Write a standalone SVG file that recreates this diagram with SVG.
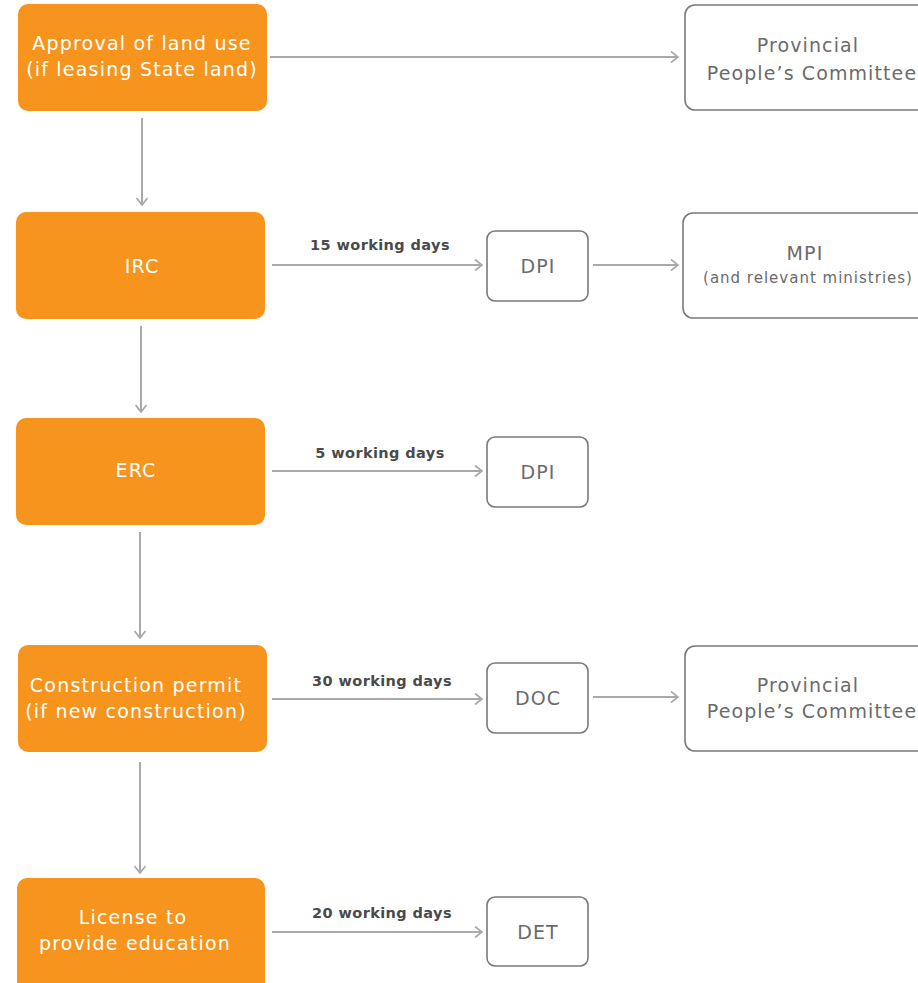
<svg xmlns="http://www.w3.org/2000/svg" width="918" height="983" viewBox="0 0 918 983">
<style>
.o{fill:#F7941D}
.w{fill:#fff;stroke:#7a7a7a;stroke-width:1.6}
.ot{fill:#fff;font-family:"DejaVu Sans","Liberation Sans",sans-serif;font-size:19px;letter-spacing:1.2px;text-anchor:middle}
.gt{fill:#6b6b6b;font-family:"DejaVu Sans","Liberation Sans",sans-serif;font-size:19px;letter-spacing:1.1px;text-anchor:middle}
.st{fill:#6b6b6b;font-family:"DejaVu Sans","Liberation Sans",sans-serif;font-size:15px;letter-spacing:1px;text-anchor:middle}
.lb{fill:#4a4a4a;font-family:"DejaVu Sans","Liberation Sans",sans-serif;font-size:14.5px;letter-spacing:0.4px;font-weight:bold;text-anchor:middle}
.c{stroke:#a9a9a9;stroke-width:2;fill:none;marker-end:url(#a)}
</style>
<defs>
<marker id="a" viewBox="0 0 12 12" refX="11" refY="6" markerWidth="12" markerHeight="12" markerUnits="userSpaceOnUse" orient="auto">
<polyline points="4,0.5 11,6 4,11.5" fill="none" stroke="#a9a9a9" stroke-width="1.8"/>
</marker>
</defs>
<g id="connectors">
<line class="c" x1="142" y1="118" x2="142" y2="205"/>
<line class="c" x1="141" y1="326" x2="141" y2="412"/>
<line class="c" x1="140" y1="532" x2="140" y2="638"/>
<line class="c" x1="140" y1="762" x2="140" y2="873"/>
<line class="c" x1="270" y1="57" x2="678" y2="57"/>
<line class="c" x1="272" y1="265" x2="482" y2="265"/>
<line class="c" x1="593" y1="265" x2="678" y2="265"/>
<line class="c" x1="272" y1="471" x2="482" y2="471"/>
<line class="c" x1="272" y1="699" x2="482" y2="699"/>
<line class="c" x1="593" y1="697" x2="678" y2="697"/>
<line class="c" x1="272" y1="932" x2="482" y2="932"/>
<text class="lb" x="380" y="250">15 working days</text>
<text class="lb" x="380" y="458">5 working days</text>
<text class="lb" x="382" y="686">30 working days</text>
<text class="lb" x="382" y="918">20 working days</text>
</g>
<g id="approval"><rect class="o" x="18" y="4" width="249" height="107" rx="10"/>
<text class="ot" x="142" y="50">Approval of land use</text><text class="ot" x="142" y="76">(if leasing State land)</text></g>
<g id="irc"><rect class="o" x="16" y="212" width="249" height="107" rx="10"/>
<text class="ot" x="142" y="273">IRC</text></g>
<g id="erc"><rect class="o" x="16" y="418" width="249" height="107" rx="10"/>
<text class="ot" x="136" y="477">ERC</text></g>
<g id="construction"><rect class="o" x="18" y="645" width="249" height="107" rx="10"/>
<text class="ot" x="136" y="692">Construction permit</text><text class="ot" x="136" y="718">(if new construction)</text></g>
<g id="license"><rect class="o" x="17" y="878" width="248" height="115" rx="10"/>
<text class="ot" x="133" y="924">License to</text><text class="ot" x="135" y="950">provide education</text></g>
<g id="ppc1"><rect class="w" x="685" y="5" width="260" height="105" rx="10"/>
<text class="gt" x="808" y="52">Provincial</text><text class="gt" x="812" y="80">People’s Committee</text></g>
<g id="dpi1"><rect class="w" x="487" y="231" width="101" height="70" rx="8"/>
<text class="gt" x="538" y="273">DPI</text></g>
<g id="mpi"><rect class="w" x="683" y="213" width="260" height="105" rx="10"/>
<text class="gt" x="805" y="260">MPI</text><text class="st" x="808" y="283">(and relevant ministries)</text></g>
<g id="dpi2"><rect class="w" x="487" y="437" width="101" height="70" rx="8"/>
<text class="gt" x="538" y="479">DPI</text></g>
<g id="doc"><rect class="w" x="487" y="663" width="101" height="70" rx="8"/>
<text class="gt" x="538" y="705">DOC</text></g>
<g id="ppc2"><rect class="w" x="685" y="646" width="260" height="105" rx="10"/>
<text class="gt" x="808" y="692">Provincial</text><text class="gt" x="812" y="718">People’s Committee</text></g>
<g id="det"><rect class="w" x="487" y="897" width="101" height="69" rx="8"/>
<text class="gt" x="538" y="939">DET</text></g>
</svg>
